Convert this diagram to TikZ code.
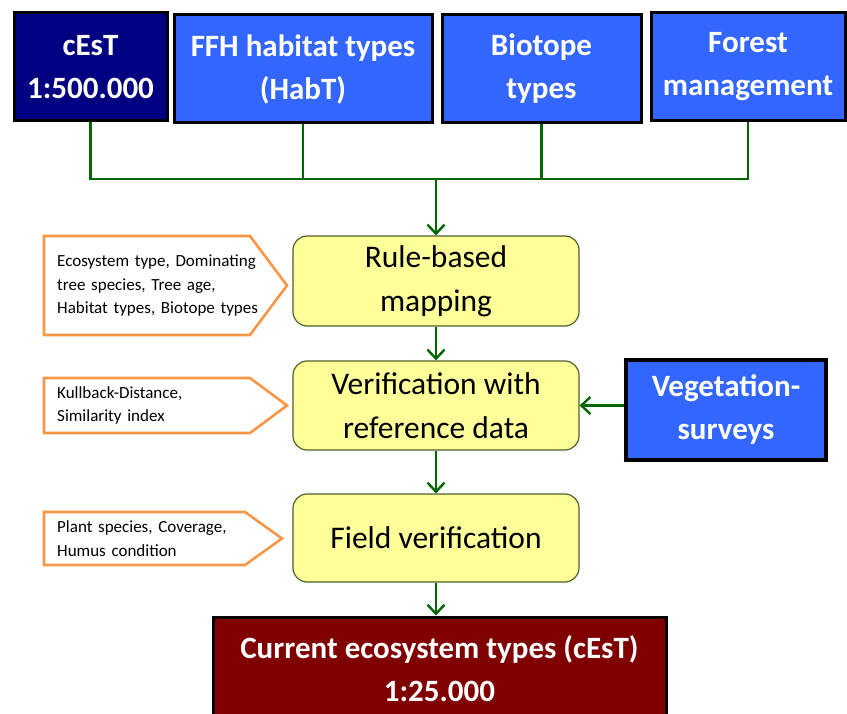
\documentclass[tikz,border=0pt]{standalone}
\usepackage{fontspec}
\setmainfont{Carlito}
\usetikzlibrary{arrows.meta,calc}
\definecolor{navybox}{HTML}{000080}
\definecolor{bluebox}{HTML}{3366FF}
\definecolor{yelbox}{HTML}{FFFF99}
\definecolor{yelline}{HTML}{4F6228}
\definecolor{redbox}{HTML}{800000}
\definecolor{conn}{HTML}{006600}
\definecolor{orangeline}{HTML}{F79646}
\tikzset{
  src/.style={draw=black, line width=3pt, text=white, inner sep=0pt, align=center,
    font=\fontsize{31}{43}\selectfont\bfseries},
  procbox/.style={draw=yelline, fill=yelbox, line width=1.2pt, rounded corners=14pt,
    inner sep=0pt, align=center, minimum width=286pt, font=\fontsize{31.5}{44}\selectfont},
  calltext/.style={inner sep=0pt, anchor=west, align=left, text width=215pt,
    font=\fontsize{17}{23.5}\selectfont},
  callline/.style={draw=orangeline, line width=2.6pt, line join=miter},
  conline/.style={draw=conn, line width=2.4pt},
  conarrow/.style={conline, -{Straight Barb[length=9pt,width=17pt,line width=2.4pt]}}
}
\begin{document}
\begin{tikzpicture}[x=1pt,y=-1pt]
\useasboundingbox (0,0) rectangle (847,714);
% top sources
\node[src, fill=navybox, minimum width=153pt, minimum height=108pt] (ce) at (90.5,67) {cEsT\\1:500.000};
\node[src, fill=bluebox, minimum width=258pt, minimum height=108pt] (ffh) at (303,69) {FFH habitat types\\(HabT)};
\node[src, fill=bluebox, minimum width=199pt, minimum height=108pt] (bt) at (541.5,69) {Biotope\\types};
\node[src, fill=bluebox, minimum width=194pt, minimum height=108pt] (fm) at (748,67) {Forest\\management};
% process boxes
\node[procbox, minimum height=90pt] (rule) at (436,281) {Rule-based\\mapping};
\node[procbox, minimum height=89pt] (verif) at (436,405.5) {Verification with\\reference data};
\node[procbox, minimum height=88pt] (field) at (436,538) {Field verification};
\node[src, fill=bluebox, line width=3.5pt, minimum width=200pt, minimum height=100pt] (veg) at (726,410) {Vegetation-\\surveys};
\node[src, fill=redbox, minimum width=453pt, minimum height=104pt] (cur) at (439.5,669) {Current ecosystem types (cEsT)\\1:25.000};
% connectors
\coordinate (bus) at (436,179);
\draw[conline] (ce.south) |- (bus);
\draw[conline] (fm.south) |- (bus);
\draw[conline] (ffh.south) -- (ffh.south |- bus);
\draw[conline] (bt.south) -- (bt.south |- bus);
\draw[conarrow] (bus) -- (rule.north);
\draw[conarrow] (rule.south) -- (verif.north);
\draw[conarrow] (verif.south) -- (field.north);
\draw[conarrow] (field.south) -- (field.south |- cur.north);
\draw[conarrow] (veg.west |- verif.east) -- (verif.east);
% callouts
\draw[callline] (44,236) -- (250,236) -- (287,285.5) -- (250,335) -- (44,335) -- cycle;
\node[calltext] (c1) at (57,285.5) {Ecosystem type, Dominating\\tree species, Tree age,\\Habitat types, Biotope types};
\draw[callline] (44,378) -- (250,378) -- (287,405.5) -- (250,433) -- (44,433) -- cycle;
\node[calltext] (c2) at (57,405.5) {Kullback-Distance,\\Similarity index};
\draw[callline] (44,512) -- (245,512) -- (282,538.5) -- (245,565) -- (44,565) -- cycle;
\node[calltext] (c3) at (57,538.5) {Plant species, Coverage,\\Humus condition};
\end{tikzpicture}
\end{document}
